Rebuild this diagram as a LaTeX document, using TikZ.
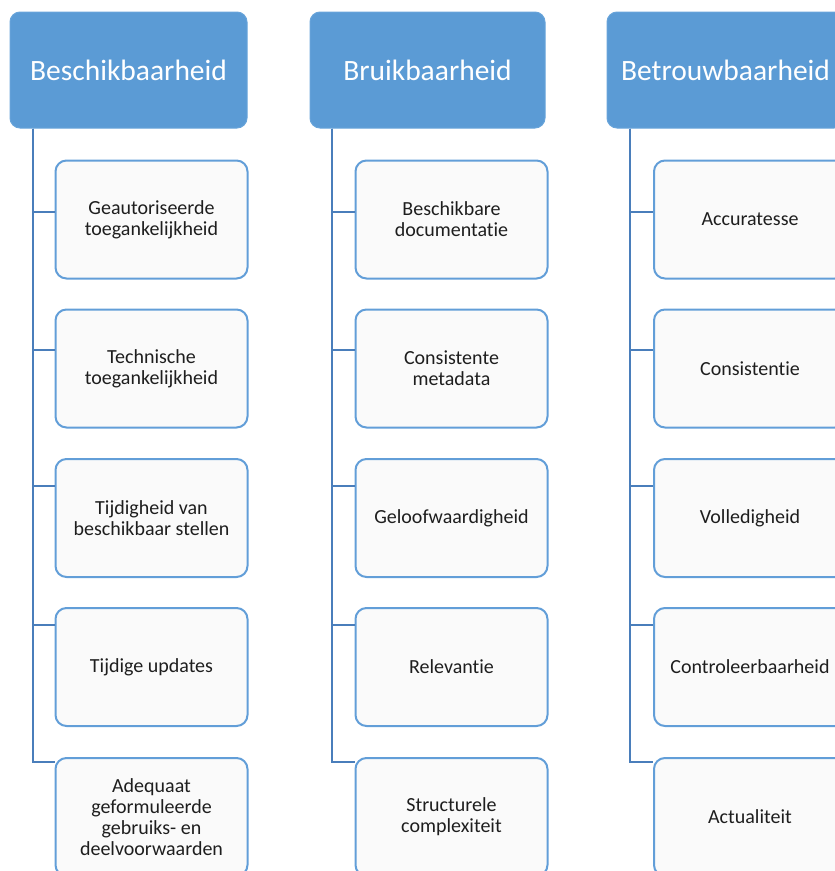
\documentclass[tikz,border=0pt]{standalone}
\usepackage{fontspec}
\setmainfont{Carlito}[Ligatures={NoCommon,NoRequired,NoContextual,NoRare}, Contextuals=NoAlternate]
\definecolor{hdrfill}{RGB}{91,155,213}
\definecolor{hdrdraw}{RGB}{104,164,218}
\definecolor{boxdraw}{RGB}{98,158,216}
\definecolor{boxfill}{RGB}{250,250,250}
\definecolor{connclr}{RGB}{74,126,187}
\definecolor{txtclr}{RGB}{30,30,30}
\tikzset{
  hdr/.style={rectangle, rounded corners=10pt, fill=hdrfill, draw=hdrdraw, line width=1pt,
    minimum height=116pt, text=white, font=\fontsize{29.5}{33}\selectfont, inner sep=0pt},
  child/.style={rectangle, rounded corners=11pt, fill=boxfill, draw=boxdraw, line width=2pt,
    minimum width=192pt, minimum height=118pt, text=txtclr, align=center,
    font=\fontsize{20}{21}\selectfont, inner sep=0pt},
  conn/.style={draw=connclr, line width=2pt}
}
\begin{document}
\begin{tikzpicture}[x=1pt,y=-1pt]
\useasboundingbox (0,0) rectangle (835,871);
\clip (0,0) rectangle (835,871);
% headers
\node[hdr, minimum width=237pt] (h1) at (128.5,70) {Beschikbaarheid};
\node[hdr, minimum width=235pt] (h2) at (427.5,70) {Bruikbaarheid};
\node[hdr, minimum width=237pt] (h3) at (725.5,70) {Betrouwbaarheid};
% trunks
\coordinate (t1) at ([xshift=23pt]h1.south west);
\coordinate (t2) at ([xshift=22pt]h2.south west);
\coordinate (t3) at ([xshift=23pt]h3.south west);
% column 1
\node[child] (c11) at (151.5,219.5) {Geautoriseerde\\toegankelijkheid};
\node[child] (c12) at (151.5,368.5) {Technische\\toegankelijkheid};
\node[child] (c13) at (151.5,518) {Tijdigheid van\\beschikbaar stellen};
\node[child] (c14) at (151.5,667) {Tijdige updates};
\node[child] (c15) at (151.5,817) {Adequaat\\geformuleerde\\gebruiks- en\\deelvoorwaarden};
% column 2
\node[child] (c21) at (451.5,219.5) {Beschikbare\\documentatie};
\node[child] (c22) at (451.5,368.5) {Consistente\\metadata};
\node[child] (c23) at (451.5,518) {Geloofwaardigheid};
\node[child] (c24) at (451.5,667) {Relevantie};
\node[child] (c25) at (451.5,817) {Structurele\\complexiteit};
% column 3
\node[child] (c31) at (750,219.5) {Accuratesse};
\node[child] (c32) at (750,368.5) {Consistentie};
\node[child] (c33) at (750,518) {Volledigheid};
\node[child] (c34) at (750,667) {Controleerbaarheid};
\node[child] (c35) at (750,817) {Actualiteit};
% connectors
\foreach \t/\c in {t1/c1, t2/c2, t3/c3}{
  \draw[conn] (\t) |- ([yshift=-52pt]\c1.north west);
  \draw[conn] (\t) |- ([yshift=-41pt]\c2.north west);
  \draw[conn] (\t) |- ([yshift=-28pt]\c3.north west);
  \draw[conn] (\t) |- ([yshift=-18pt]\c4.north west);
  \draw[conn] (\t) |- ([yshift=-5pt]\c5.north west);
}
\end{tikzpicture}
\end{document}
